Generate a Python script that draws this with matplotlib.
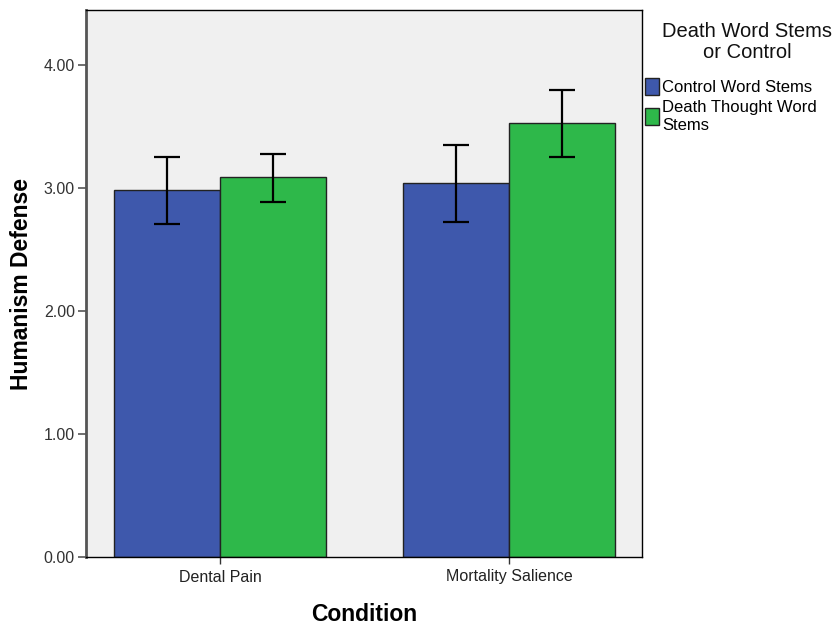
import numpy as np
import matplotlib.pyplot as plt
from matplotlib.patches import Patch

plt.rcParams['font.family'] = ['Liberation Sans', 'DejaVu Sans']

# 数据
conditions = ['Dental Pain', 'Mortality Salience']
series_names = ['Control Word Stems', 'Death Thought Word\nStems']
legend_title = 'Death Word Stems\nor Control'
control_means = [2.98, 3.04]
control_lo = [2.71, 2.72]
control_hi = [3.25, 3.35]
death_means = [3.09, 3.53]
death_lo = [2.89, 3.25]
death_hi = [3.28, 3.80]
yticks = [0.0, 1.0, 2.0, 3.0, 4.0]

colors = ['#3E58AC', '#2EB84A']

fig = plt.figure(figsize=(8.39, 6.28), dpi=100)
ax = fig.add_axes([86 / 839, 1 - 557 / 628, 556 / 839, 547 / 628])
ax.set_facecolor('#F0F0F0')

x = np.arange(len(conditions))
w = 0.367
means = [control_means, death_means]
los = [control_lo, death_lo]
his = [control_hi, death_hi]
for i, offs in enumerate([-w / 2, w / 2]):
    m = np.array(means[i])
    err = [m - np.array(los[i]), np.array(his[i]) - m]
    ax.bar(x + offs, m, width=w, color=colors[i], edgecolor='#222222', linewidth=1.0, zorder=2)
    ax.errorbar(x + offs, m, yerr=err, fmt='none', ecolor='black', elinewidth=1.6,
                capsize=9.5, capthick=1.6, zorder=3)

ax.set_xlim(-0.464, 1.46)
ax.set_ylim(0, 4.447)
ax.set_yticks(yticks)
ax.set_yticklabels([f'{v:.2f}' for v in yticks], fontsize=11.5, color='#333333')
ax.set_xticks(x)
ax.set_xticklabels(conditions, fontsize=11.5, color='#222222')
ax.tick_params(axis='y', length=6, width=1.2, color='#555555', pad=2)
ax.tick_params(axis='x', length=5, width=1.0, color='#333333', pad=4)

ax.spines['left'].set_color('#555555')
ax.spines['left'].set_linewidth(2)
for s in ['top', 'right', 'bottom']:
    ax.spines[s].set_color('black')
    ax.spines[s].set_linewidth(1)

ax.set_ylabel('Humanism Defense', fontsize=16.5, fontweight='bold', labelpad=8)
ax.set_xlabel('Condition', fontsize=16.5, fontweight='bold', labelpad=13)

# 图例标题单独放
fig.text(747 / 839, 1 - 42 / 628, legend_title, ha='center', va='center',
         fontsize=14.5, linespacing=1.1, color='#111111')

handles = [Patch(facecolor=c, edgecolor='#222222', linewidth=1) for c in colors]
leg = fig.legend(handles, series_names,
                 loc='upper left', bbox_to_anchor=(645 / 839, 1 - 78 / 628),
                 frameon=False, fontsize=12, borderaxespad=0,
                 handlelength=0.85, handleheight=1.2, handletextpad=0.2,
                 labelspacing=0.3, borderpad=0)

fig.savefig('out.png', dpi=100)
